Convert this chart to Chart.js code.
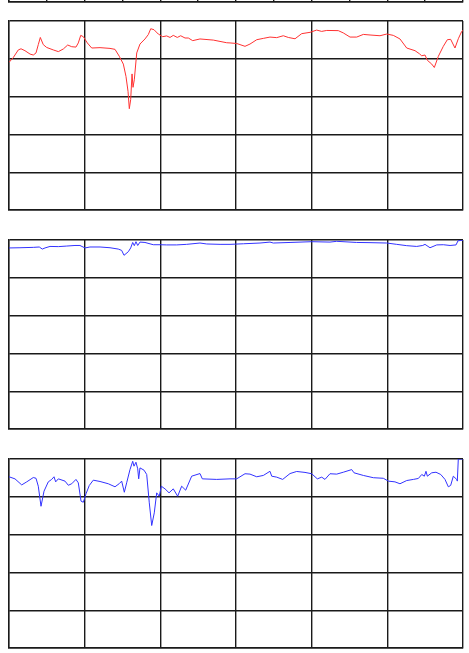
<!DOCTYPE html>
<html>
<head>
<meta charset="utf-8">
<script src="https://cdn.jsdelivr.net/npm/chart.js@4.4.1/dist/chart.umd.min.js"></script>
<style>
  body { margin: 0; background: #fff; width: 469px; height: 653px; overflow: hidden; position: relative; }
  canvas { position: absolute; left: 0; }
</style>
</head>
<body>
<canvas id="c0" width="469" height="200" style="top:-192px"></canvas>
<canvas id="c1" width="469" height="200" style="top:16px"></canvas>
<canvas id="c2" width="469" height="200" style="top:235px"></canvas>
<canvas id="c3" width="469" height="200" style="top:454px"></canvas>
<script>
// values (x 0-600, y 0-100)
const redX = [0, 5.7, 12.3, 15.9, 21.1, 27.8, 32.1, 35.7, 38.7, 41.4, 45.3, 49.8, 58.5, 65.2, 71.8, 77.6, 82.9, 88.5, 91.6, 94.8, 98.2, 103.5, 109.3, 120.3, 133.5, 140.1, 145.8, 151.1, 154.6, 157.3, 159.0, 160.8, 162.6, 163.9, 165.6, 168.8, 173.1, 179.7, 184.1, 187.3, 191.6, 197.3, 203.1, 208.4, 212.8, 217.1, 222.4, 226.9, 232.6, 237.0, 242.8, 252.4, 270.0, 287.7, 292.1, 300.9, 311.9, 318.5, 327.4, 336.1, 344.9, 353.8, 362.5, 369.1, 378.0, 386.8, 397.8, 406.6, 413.2, 419.9, 435.2, 441.8, 450.7, 459.5, 468.3, 477.1, 490.3, 499.2, 507.9, 516.7, 525.6, 536.6, 542.3, 545.4, 549.8, 552.9, 558.7, 562.1, 567.4, 574.0, 579.3, 583.7, 589.4, 593.8, 598.3, 600];
const redY = [78.1, 80.7, 84.7, 85.3, 84.3, 82.5, 82.0, 83.1, 87.5, 91.3, 87.5, 86.0, 84.7, 83.8, 85.2, 87.3, 86.4, 86.2, 88.4, 92.4, 91.7, 88.4, 85.7, 85.9, 85.5, 85.0, 81.3, 77.2, 70.7, 62.8, 53.6, 58.4, 72.0, 64.9, 68.9, 83.1, 87.8, 90.5, 92.8, 95.9, 95.4, 93.1, 91.7, 92.1, 91.3, 92.4, 91.3, 92.2, 91.0, 91.0, 89.6, 90.5, 89.9, 88.5, 88.4, 88.1, 86.6, 87.8, 90.1, 90.8, 91.5, 91.2, 92.2, 91.3, 90.6, 93.3, 94.0, 95.2, 94.5, 95.0, 94.9, 93.7, 91.5, 91.5, 92.9, 92.6, 92.2, 93.1, 92.4, 90.5, 85.7, 84.3, 82.7, 81.6, 82.0, 79.2, 77.2, 75.4, 81.3, 86.6, 90.1, 90.3, 85.7, 90.6, 94.5, 95.0];

const blueAX = [0, 14.5, 32.1, 40.0, 44.0, 47.6, 54.2, 65.2, 76.3, 87.2, 93.8, 100.4, 107.0, 120.3, 133.5, 144.4, 148.9, 152.0, 157.7, 160.8, 163.5, 165.6, 167.8, 170.1, 173.1, 179.7, 190.7, 199.6, 208.4, 221.6, 234.8, 252.4, 261.3, 278.9, 292.1, 309.7, 331.7, 344.9, 349.3, 371.4, 400.0, 424.2, 433.1, 459.5, 477.1, 499.2, 512.4, 525.6, 538.8, 546.8, 549.8, 556.4, 565.3, 574.0, 582.9, 590.8, 593.4, 598.3, 600];
const blueAY = [95.8, 95.9, 96.1, 96.3, 95.2, 95.8, 96.6, 96.5, 96.8, 97.1, 97.1, 95.8, 96.3, 96.3, 95.9, 95.2, 94.5, 91.9, 93.8, 95.8, 98.7, 97.0, 99.1, 97.1, 98.9, 98.7, 97.5, 97.5, 97.4, 97.4, 97.7, 98.4, 97.9, 97.7, 97.7, 98.0, 98.4, 98.9, 98.4, 98.7, 99.1, 98.9, 99.3, 98.7, 98.6, 98.4, 97.7, 97.0, 96.6, 97.1, 97.7, 95.9, 97.4, 97.5, 97.1, 97.4, 99.6, 99.8, 99.9];

const blueBX = [0, 7.9, 16.8, 23.4, 32.1, 35.7, 38.7, 42.3, 46.3, 51.9, 56.4, 59.5, 61.7, 65.2, 74.0, 78.4, 82.9, 88.5, 91.6, 95.2, 98.2, 101.8, 106.1, 111.4, 120.3, 131.2, 140.1, 145.8, 148.9, 152.4, 155.5, 159.9, 163.5, 165.2, 167.8, 170.1, 171.4, 173.1, 178.4, 182.0, 185.4, 188.6, 192.0, 195.2, 198.6, 201.3, 206.2, 211.5, 217.1, 222.9, 228.2, 233.5, 241.4, 252.4, 255.5, 274.5, 292.1, 300.9, 311.9, 318.5, 327.4, 336.1, 344.9, 347.2, 353.8, 361.7, 371.4, 380.2, 391.2, 400.0, 407.5, 413.3, 417.6, 424.2, 433.1, 441.8, 452.9, 456.0, 468.3, 481.5, 494.7, 501.3, 510.1, 516.7, 525.6, 534.4, 541.0, 545.5, 548.9, 551.1, 552.9, 558.7, 564.3, 570.6, 576.2, 580.6, 583.7, 587.2, 591.7, 592.5, 593.8, 598.3, 600];
const blueBY = [90.6, 89.5, 86.3, 87.9, 90.2, 89.8, 85.6, 75.0, 83.0, 87.9, 89.2, 90.6, 87.9, 89.5, 88.3, 86.1, 86.9, 89.2, 87.4, 77.7, 77.1, 81.6, 86.0, 88.8, 88.1, 86.9, 85.3, 87.0, 88.3, 82.4, 87.4, 94.4, 98.8, 96.2, 98.3, 94.8, 89.5, 95.3, 94.1, 91.8, 76.8, 64.8, 71.5, 82.1, 80.3, 85.6, 84.2, 82.1, 84.2, 80.3, 85.6, 83.5, 90.9, 92.3, 89.5, 89.2, 89.5, 89.5, 92.2, 92.0, 90.6, 91.3, 93.5, 90.9, 90.4, 89.2, 92.3, 93.4, 92.9, 92.2, 89.5, 90.4, 89.2, 92.2, 92.0, 93.0, 94.4, 92.7, 91.3, 90.1, 89.8, 88.3, 87.9, 86.9, 88.6, 89.2, 89.7, 91.8, 90.9, 93.5, 90.9, 92.7, 93.0, 91.8, 89.2, 85.3, 86.0, 90.9, 89.2, 88.3, 100.0, 100.0, 100.0];

function toPoints(xs, ys) {
    return xs.map((x, i) => ({ x: x, y: ys[i] }));
}

function makePanel(id, xStep, xs, ys, color) {
    const ctx = document.getElementById(id);
    const datasets = [];
    if (xs) {
        datasets.push({
            data: toPoints(xs, ys),
            borderColor: color,
            borderWidth: 1,
            pointRadius: 0,
            tension: 0,
            fill: false
        });
    }
    new Chart(ctx, {
        type: 'line',
        data: { datasets: datasets },
        options: {
            responsive: false,
            animation: false,
            layout: { padding: { left: 9, right: 6, top: 5, bottom: 6 } },
            plugins: { legend: { display: false }, tooltip: { enabled: false } },
            scales: {
                x: {
                    type: 'linear', min: 0, max: 600,
                    ticks: { display: false, stepSize: xStep },
                    grid: { color: '#1a1a1a', lineWidth: 1.4, drawTicks: false },
                    border: { color: '#1a1a1a', width: 1.4 }
                },
                y: {
                    min: 0, max: 100,
                    ticks: { display: false, stepSize: 20 },
                    grid: { color: '#1a1a1a', lineWidth: 1.4, drawTicks: false },
                    border: { color: '#1a1a1a', width: 1.4 }
                }
            }
        }
    });
}

makePanel('c0', 50, null, null, null);
makePanel('c1', 100, redX, redY, 'rgb(255,50,50)');
makePanel('c2', 100, blueAX, blueAY, 'rgb(50,50,255)');
makePanel('c3', 100, blueBX, blueBY, 'rgb(50,50,255)');
</script>
</body>
</html>
